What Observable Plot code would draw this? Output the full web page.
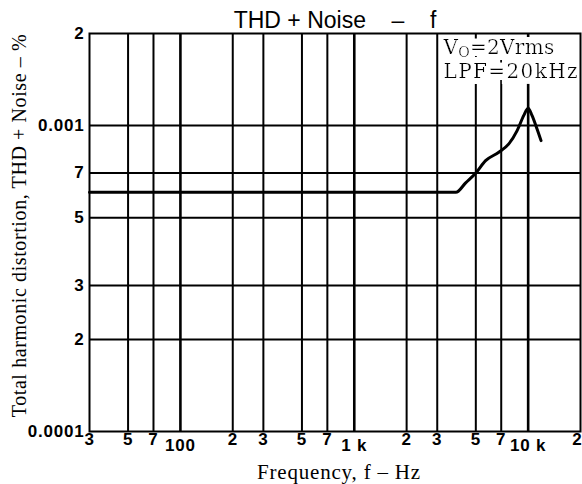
<!DOCTYPE html>
<html><head><meta charset="utf-8">
<script src="https://cdn.jsdelivr.net/npm/d3@7"></script>
<script src="https://cdn.jsdelivr.net/npm/@observablehq/plot@0.6"></script>
<style>
html,body{margin:0;padding:0;background:#fff;}
g[font-weight="bold"] text{letter-spacing:0.8px;}
</style></head><body><div id="chart"></div>
<script>
const title = "THD + Noise\u00a0\u00a0\u00a0\u00a0\u2013\u00a0\u00a0\u00a0\u00a0f";
const xLabel = "Frequency, f \u2013 Hz";
const yLabel = "Total harmonic distortion, THD + Noise \u2013 %";
const notes = ["VO=2Vrms", "LPF=20kHz"];
const xTicks = [30, 50, 70, 100, 200, 300, 500, 700, 1000, 2000, 3000, 5000, 7000, 10000, 20000];
const xTickLabels = ["3", "5", "7", "100", "2", "3", "5", "7", "1 k", "2", "3", "5", "7", "10 k", "2"];
const xDecades = [100, 1000, 10000];
const yTicks = [0.0001, 0.0002, 0.0003, 0.0005, 0.0007, 0.001, 0.002];
const yTickLabels = ["0.0001", "2", "3", "5", "7", "0.001", "2"];
const freqHz = [30, 1000, 3840, 4370, 5000, 5690, 6780, 7740, 8640, 9440, 10000, 10520, 11250, 11860];
const thdPct = [0.000605, 0.000605, 0.000605, 0.00065, 0.0007, 0.000768, 0.000818, 0.000871, 0.000963, 0.00108, 0.00114, 0.00108, 0.000975, 0.000893];

const curve = freqHz.map((f, i) => ({f, v: thdPct[i]}));
const xLab = new Map(xTicks.map((t, i) => [t, xTickLabels[i]]));
const yLab = new Map(yTicks.map((t, i) => [t, yTickLabels[i]]));
const xGrid = xTicks.slice(1, -1);
const yGrid = yTicks.slice(1, -1);
const xLast = xTicks[xTicks.length - 1];
const gw = d => xDecades.includes(d) ? 2.6 : 2;

const noteStyle = {text: d => d, frameAnchor: "top-left", dx: 354, textAnchor: "start", lineAnchor: "bottom",
  fontFamily: "DejaVu Serif", fontSize: 20, fill: "black"};
const tickStyle = {frameAnchor: "bottom", lineAnchor: "top", fontWeight: "bold", fontSize: 17, fill: "black"};

const chart = Plot.plot({
  width: 582, height: 484,
  marginLeft: 89, marginRight: 2, marginTop: 33, marginBottom: 53,
  style: {fontFamily: "Liberation Sans", fontSize: "17px", background: "white", color: "black"},
  x: {type: "log", domain: [30, 20000], axis: null},
  y: {type: "log", domain: [0.0001, 0.002], axis: null},
  marks: [
    Plot.ruleY(yGrid, {y: d => d, stroke: "black", strokeWidth: 2}),
    Plot.ruleX(xGrid.filter(f => f > 3000), {x: d => d, stroke: "black", strokeWidth: gw}),
    Plot.text([notes[0]], {...noteStyle, dy: 20}),
    Plot.text([notes[1]], {...noteStyle, dy: 44}),
    Plot.ruleX(xGrid.filter(f => f <= 3000), {x: d => d, stroke: "black", strokeWidth: gw}),
    Plot.line(curve, {x: "f", y: "v", stroke: "black", strokeWidth: 3, curve: "monotone-x"}),
    Plot.frame({stroke: "black", strokeWidth: 2}),
    Plot.text(xTicks.filter(t => !xDecades.includes(t) && t !== xLast), {...tickStyle, x: d => d, text: d => xLab.get(d), dy: 1}),
    Plot.text([xLast], {...tickStyle, x: d => d, text: d => xLab.get(d), dy: 1, textAnchor: "end", dx: 2}),
    Plot.text(xDecades, {...tickStyle, x: d => d, text: d => xLab.get(d), dy: 7}),
    Plot.text(yTicks, {y: d => d, text: d => yLab.get(d), frameAnchor: "left", textAnchor: "end",
      lineAnchor: "middle", dx: -5, fontWeight: "bold", fontSize: 17, fill: "black"}),
    Plot.text([title], {text: d => d, frameAnchor: "top", textAnchor: "middle", lineAnchor: "bottom", dy: -6, fontSize: 23, fill: "black"}),
    Plot.text([xLabel], {text: d => d, frameAnchor: "bottom", textAnchor: "middle", lineAnchor: "bottom", dx: 4, dy: 47,
      fontFamily: "Liberation Serif", fontSize: 21, fill: "black"}),
    Plot.text([yLabel], {text: d => d, frameAnchor: "left", textAnchor: "middle", rotate: -90, lineAnchor: "bottom", dx: -64, dy: -7,
      fontFamily: "Liberation Serif", fontSize: 20, fill: "black"})
  ]
});

const ns = "http://www.w3.org/2000/svg";
// white halo filter behind the annotation (hides the grid under the note)
const defs = document.createElementNS(ns, "defs");
defs.innerHTML = '<filter id="note-halo" filterUnits="userSpaceOnUse" x="-1000" y="-1000" width="3000" height="3000">' +
  '<feMorphology in="SourceAlpha" operator="dilate" radius="6" result="d"/>' +
  '<feFlood flood-color="white" result="w"/>' +
  '<feComposite in="w" in2="d" operator="in" result="h"/>' +
  '<feMerge><feMergeNode in="h"/><feMergeNode in="SourceGraphic"/></feMerge></filter>';
chart.prepend(defs);

const spacing = new Map([[yLabel, "0.6px"], [xLabel, "0.8px"], [notes[0], "0.3px"], [notes[1], "1.4px"]]);
chart.querySelectorAll("text").forEach(t => {
  const s = t.textContent;
  if (spacing.has(s)) t.style.letterSpacing = spacing.get(s);
  if (notes.includes(s)) t.setAttribute("filter", "url(#note-halo)");
  // subscript "O" in V_O
  if (s === notes[0]) {
    t.textContent = "";
    const a = document.createElementNS(ns, "tspan"); a.textContent = s.slice(0, 1);
    const b = document.createElementNS(ns, "tspan"); b.textContent = s.slice(1, 2);
    b.setAttribute("dy", "3"); b.setAttribute("font-size", "14");
    const c = document.createElementNS(ns, "tspan"); c.textContent = s.slice(2);
    c.setAttribute("dy", "-3");
    t.append(a, b, c);
  }
});
document.getElementById("chart").append(chart);
</script></body></html>
